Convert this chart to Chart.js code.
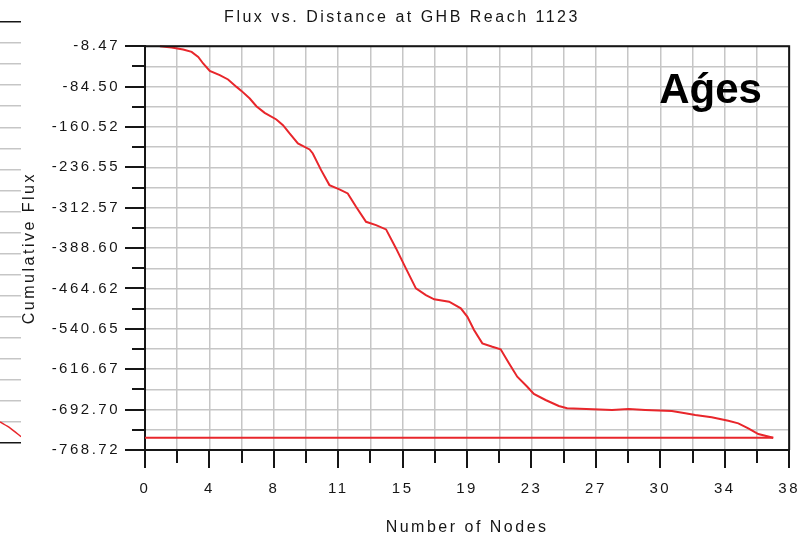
<!DOCTYPE html>
<html>
<head>
<meta charset="utf-8">
<script src="https://cdn.jsdelivr.net/npm/chart.js@4.4.1/dist/chart.umd.min.js"></script>
<style>
  html, body { margin: 0; padding: 0; background: #ffffff; }
  #wrap { position: relative; width: 804px; height: 537px; overflow: hidden; background: #ffffff; }
  #leftPart { position: absolute; left: 0; top: 0; z-index: 0; }
  #main { position: absolute; left: 0; top: 0; z-index: 1; }
</style>
</head>
<body>
<div id="wrap">
  <canvas id="leftPart" width="21" height="537"></canvas>
  <canvas id="main" width="804" height="537"></canvas>
</div>
<script>
// ---- Data ----
const chartTitle = 'Flux vs. Distance at GHB Reach 1123';
const xTitle = 'Number of Nodes';
const yTitle = 'Cumulative Flux';
const badgeText = 'Aǵes';

const xTickLabels = ['0', '4', '8', '11', '15', '19', '23', '27', '30', '34', '38'];
const yTickLabels = ['-8.47', '-84.50', '-160.52', '-236.55', '-312.57', '-388.60',
                     '-464.62', '-540.65', '-616.67', '-692.70', '-768.72'];

const nodeX = [0.88, 1.57, 2.25, 2.75, 3.14, 3.43, 3.82, 4.41, 4.90, 5.40,
               5.69, 6.18, 6.57, 7.06, 7.75, 8.14, 8.53, 9.02, 9.71, 9.90,
               10.39, 10.88, 11.47, 11.96, 12.45, 13.04, 13.63, 14.22, 14.81, 15.39,
               15.98, 16.57, 17.06, 17.94, 18.63, 19.02, 19.41, 19.90, 20.49, 20.98,
               21.47, 21.96, 22.55, 22.94, 23.63, 24.41, 24.90, 27.55, 28.53, 29.51,
               31.08, 31.87, 32.46, 33.43, 34.41, 35.00, 35.59, 36.18, 37.06];
const cumulativeFlux = [-8.5, -10.9, -14.7, -19.2, -28.6, -41.0, -55.0, -63.0, -71.1, -85.1,
               -92.6, -106.9, -121.4, -134.0, -146.4, -157.1, -172.8, -191.6, -202.9, -210.4,
               -241.8, -270.0, -278.1, -285.7, -310.9, -339.1, -345.3, -353.4, -389.2, -426.8,
               -464.4, -477.0, -485.1, -489.6, -502.1, -517.9, -542.9, -567.9, -574.3, -579.2,
               -605.6, -630.8, -649.6, -663.3, -674.6, -685.9, -690.2, -693.4, -691.6, -693.4,
               -695.3, -699.7, -702.9, -707.2, -713.6, -718.5, -727.9, -738.6, -745.5];

// Total flux reference line
const totalLineX = [0, 37.06];
const totalLineY = [-745.5, -745.5];

// Neighbouring (cropped) chart at the left edge
const leftX = [0, 1, 2];
const leftY = [1.0, 0.7, 0.3];

// ---- Derived axis setup ----
const xMin = parseFloat(xTickLabels[0]);
const xMax = parseFloat(xTickLabels[xTickLabels.length - 1]);
const yMax = parseFloat(yTickLabels[0]);
const yMin = parseFloat(yTickLabels[yTickLabels.length - 1]);
const nX = (xTickLabels.length - 1) * 2;   // major + minor
const nY = (yTickLabels.length - 1) * 2;

const FONT = "'Liberation Sans', Arial, sans-serif";
const INK = '#161616';
const GRID = '#c6c6c6';
const RED = '#e8262b';

Chart.defaults.font.family = FONT;
Chart.defaults.color = INK;

const spacingPlugin = {
  id: 'spacing',
  beforeUpdate(c) { c.ctx.letterSpacing = '2.5px'; },
  beforeDraw(c) { c.ctx.letterSpacing = '2.5px'; }
};

const decorPlugin = {
  id: 'decor',
  afterDraw(chart) {
    const {ctx, chartArea: a, scales: {x, y}} = chart;
    ctx.save();
    ctx.letterSpacing = '0px';
    ctx.strokeStyle = INK;
    ctx.lineWidth = 2;
    ctx.beginPath();
    ctx.moveTo(a.left, a.top);
    ctx.lineTo(a.right, a.top);
    ctx.lineTo(a.right, a.bottom);
    ctx.stroke();
    y.ticks.forEach((t, i) => {
      const p = Math.round(y.getPixelForValue(t.value));
      const len = (i % 2 === 0) ? 20 : 13;
      ctx.beginPath();
      ctx.moveTo(a.left - len, p);
      ctx.lineTo(a.left, p);
      ctx.stroke();
    });
    x.ticks.forEach((t, i) => {
      const p = Math.round(x.getPixelForValue(t.value));
      const len = (i % 2 === 0) ? 18 : 13;
      ctx.beginPath();
      ctx.moveTo(p, a.bottom);
      ctx.lineTo(p, a.bottom + len);
      ctx.stroke();
    });
    // badge text
    ctx.fillStyle = '#000';
    ctx.font = "bold 42px " + FONT;
    ctx.textAlign = 'left';
    ctx.textBaseline = 'alphabetic';
    ctx.fillText(badgeText, a.right - 130, a.top + 57);
    ctx.restore();
  }
};

new Chart(document.getElementById('main'), {
  type: 'line',
  data: {
    datasets: [
      {
        data: nodeX.map((v, i) => ({x: v, y: cumulativeFlux[i]})),
        borderColor: RED, borderWidth: 2, pointRadius: 0, tension: 0, clip: 4
      },
      {
        data: totalLineX.map((v, i) => ({x: v, y: totalLineY[i]})),
        borderColor: RED, borderWidth: 2, pointRadius: 0, tension: 0
      }
    ]
  },
  options: {
    responsive: false,
    animation: false,
    events: [],
    layout: { padding: { left: 0, right: 0, top: 0, bottom: 0 } },
    plugins: {
      legend: { display: false },
      tooltip: { enabled: false },
      title: {
        display: true, text: chartTitle, color: INK,
        font: { size: 16, weight: 'normal', family: FONT },
        padding: { top: 8, bottom: 19 }
      }
    },
    scales: {
      x: {
        type: 'linear', min: xMin, max: xMax,
        afterBuildTicks(axis) {
          const t = [];
          for (let i = 0; i <= nX; i++) t.push({value: xMin + (xMax - xMin) * i / nX});
          axis.ticks = t;
        },
        afterFit(s) { s.height = 87; },
        ticks: {
          autoSkip: false, maxRotation: 0, padding: 4, color: INK,
          font: { size: 15, family: FONT },
          callback: (v, i) => (i % 2 === 0 ? xTickLabels[i / 2] : '')
        },
        grid: { color: GRID, lineWidth: 1.5, drawTicks: true, tickLength: 26, tickColor: 'rgba(0,0,0,0)' },
        border: { color: INK, width: 2 },
        title: {
          display: true, text: xTitle, color: INK,
          font: { size: 16, family: FONT }, padding: { top: 0, bottom: 0 }
        }
      },
      y: {
        type: 'linear', min: yMin, max: yMax,
        afterBuildTicks(axis) {
          const t = [];
          for (let i = 0; i <= nY; i++) t.push({value: yMin + (yMax - yMin) * i / nY});
          axis.ticks = t;
        },
        afterFit(s) { s.width = 145; },
        ticks: {
          autoSkip: false, padding: 25, color: INK,
          font: { size: 15, family: FONT },
          callback: (v, i) => (i % 2 === 0 ? yTickLabels[(nY - i) / 2] : '')
        },
        grid: { color: GRID, lineWidth: 1.5, drawTicks: false },
        border: { color: INK, width: 2 },
        title: {
          display: true, text: yTitle, color: INK,
          font: { size: 16, family: FONT }, padding: { top: 20, bottom: 0 }
        }
      }
    }
  },
  plugins: [spacingPlugin, decorPlugin]
});

// Cropped neighbouring chart on the left edge
new Chart(document.getElementById('leftPart'), {
  type: 'line',
  data: {
    datasets: [{
      data: leftX.map((v, i) => ({x: v, y: leftY[i]})),
      borderColor: RED, borderWidth: 1.5, pointRadius: 0, tension: 0.3
    }]
  },
  options: {
    responsive: false,
    animation: false,
    events: [],
    layout: { padding: { left: 0, right: 0, top: 22, bottom: 94 } },
    plugins: { legend: { display: false }, tooltip: { enabled: false }, title: { display: false } },
    scales: {
      x: { type: 'linear', min: 0, max: 2, display: false },
      y: {
        type: 'linear', min: 0, max: 20,
        afterFit(s) { s.width = 0; },
        ticks: { display: false, stepSize: 1 },
        grid: {
          drawTicks: false, lineWidth: 1.5,
          color: (ctx) => (ctx.tick && (ctx.tick.value === 0 || ctx.tick.value === 20)) ? INK : GRID
        },
        border: { display: false }
      }
    }
  }
});
</script>
</body>
</html>
